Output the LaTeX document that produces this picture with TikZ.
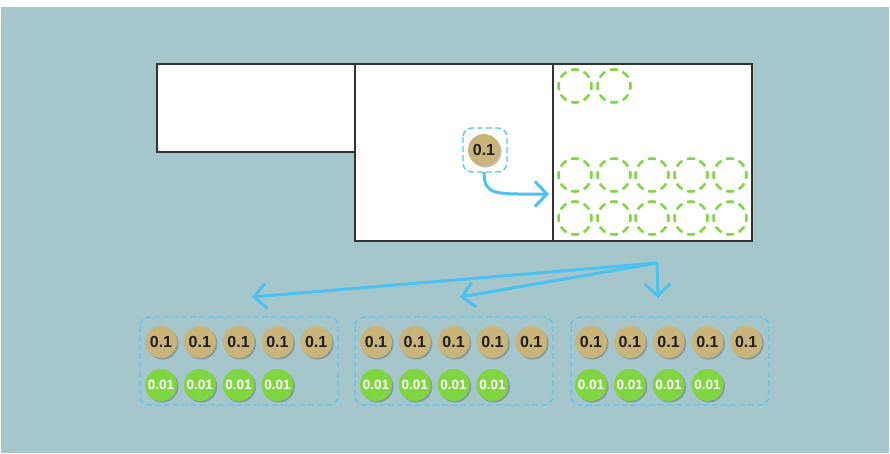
\documentclass[tikz,border=0pt]{standalone}
\usepackage{fontspec}
\setmainfont{Liberation Sans}
\usetikzlibrary{arrows.meta,shadows}
\definecolor{bgteal}{HTML}{A5C7CB}
\definecolor{coinTan}{HTML}{C9B47A}
\definecolor{coinGreen}{HTML}{7FD640}
\definecolor{arrBlue}{HTML}{4CC2F0}
\definecolor{dashBlue}{HTML}{5CC6EE}
\definecolor{slotGreen}{HTML}{82D648}
\definecolor{boxLine}{HTML}{333333}
\tikzset{
  panel/.style={draw=boxLine,line width=1.6pt,fill=white},
  tancoin/.style={circle,fill=coinTan,minimum size=32pt,inner sep=0pt,
    font=\bfseries\fontsize{16}{16}\selectfont,text=black!88,
    drop shadow={shadow xshift=1.5pt,shadow yshift=-1.5pt,opacity=0.35,fill=black!70}},
  greencoin/.style={circle,fill=coinGreen,minimum size=32pt,inner sep=0pt,
    font=\bfseries\fontsize{13.5}{13.5}\selectfont,text=white,
    drop shadow={shadow xshift=1.5pt,shadow yshift=-1.5pt,opacity=0.35,fill=black!70}},
  slot/.style={circle,draw=slotGreen,line width=2.6pt,dash pattern=on 8pt off 4.96pt,dash phase=4pt,minimum size=33pt,inner sep=0pt},
  groupbox/.style={draw=dashBlue,line width=1.4pt,dash pattern=on 6pt off 3pt,rounded corners=9pt},
  bluearrow/.style={draw=arrBlue,line width=3pt,-{Straight Barb[length=12pt,width=25pt,line width=3pt]}},
}
\begin{document}
\begin{tikzpicture}[x=1pt,y=-1pt]
\useasboundingbox (0,0) rectangle (890,453);
\fill[white] (0,0) rectangle (890,453);
\fill[bgteal] (1,7) rectangle (889,453);
% panels
\draw[panel] (157,64) rectangle (355,152);
\draw[panel] (355,64) rectangle (553,241);
\draw[panel] (553,64) rectangle (752,241);
% coin in middle panel
\draw[groupbox] (463,128) rectangle (507,172);
\node[tancoin] (mc) at (484,150) {0.1};
\coordinate (mcb) at (484,172);
\coordinate (mct) at (549,194);
\draw[bluearrow] (mcb) .. controls (484,196) and (495,194) .. (mct);
% green slots
\foreach \x/\n in {575/1,614/2} \node[slot] (s0\n) at (\x,86) {};
\foreach \x/\n in {575/1,614/2,652/3,691/4,730/5} {
  \node[slot] (s1\n) at (\x,175) {};
  \node[slot] (s2\n) at (\x,218) {};
}
% hub arrows
\coordinate (hub) at (657,263);
\coordinate (t1) at (252,297);
\coordinate (t2) at (460,297);
\coordinate (t3) at (658,298);
\draw[bluearrow] (hub) -- (t1);
\draw[bluearrow] (hub) -- (t2);
\draw[bluearrow] (hub) -- (t3);
% groups
\foreach \g/\bx/\cx in {1/140/161,2/355/376,3/571/591} {
  \draw[groupbox] (\bx,317) rectangle (\bx+198,405);
  \foreach \i in {0,...,4} \node[tancoin] (g\g t\i) at (\cx+38.8*\i,342) {0.1};
  \foreach \i in {0,...,3} \node[greencoin] (g\g g\i) at (\cx+38.8*\i,385) {0.01};
}
\end{tikzpicture}
\end{document}
